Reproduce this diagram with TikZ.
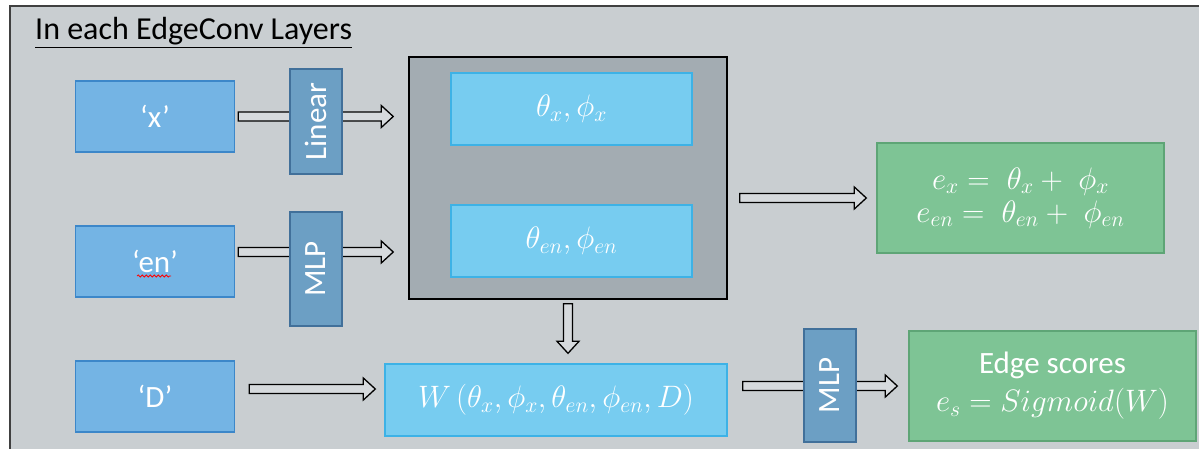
\documentclass[tikz,border=0pt]{standalone}
\usepackage{fix-cm}
\usepackage{amsmath}
\usepackage{fontspec}
\setmainfont{Carlito}
\usetikzlibrary{calc,decorations.pathmorphing}
\definecolor{framebg}{HTML}{C9CED1}
\definecolor{inblue}{HTML}{74B4E4}
\definecolor{inedge}{HTML}{3C87C9}
\definecolor{layblue}{HTML}{6C9FC4}
\definecolor{layedge}{HTML}{41709A}
\definecolor{embgray}{HTML}{A3ACB2}
\definecolor{embblue}{HTML}{77CCF0}
\definecolor{embedge}{HTML}{3DB2E6}
\definecolor{outgreen}{HTML}{7EC495}
\definecolor{outedge}{HTML}{5EA576}
\definecolor{arrfill}{HTML}{D6DADD}
\newcommand{\boxfont}{\fontsize{31}{33}\selectfont}
\newcommand{\titlefont}{\fontsize{32}{36}\selectfont}
\tikzset{
  inbox/.style={rectangle, draw=inedge, line width=1.4pt, fill=inblue, text=white,
                font=\boxfont, inner sep=0pt, minimum width=159pt, minimum height=71pt},
  layer/.style={rectangle, draw=layedge, line width=1.4pt, fill=layblue, text=white,
                font=\boxfont, inner sep=0pt, rotate=90, minimum width=#1, minimum height=52pt},
  embbox/.style={rectangle, draw=embedge, line width=1.4pt, fill=embblue, text=white,
                 font=\boxfont, inner sep=0pt, minimum width=#1, minimum height=72pt},
  outbox/.style={rectangle, draw=outedge, line width=1.4pt, fill=outgreen, text=white,
                 font=\boxfont, align=center, inner sep=0pt, minimum width=287pt, minimum height=110pt},
  % hollow block arrow, #1/#2 = gap left at the start/end
  blockarrow/.style 2 args={draw=black, fill=arrfill, line width=1.3pt, line join=miter,
    to path={let \p1=($(\tikztostart)!#1!(\tikztotarget)$),
                 \p2=($(\tikztotarget)!#2!(\tikztostart)$),
                 \n1={atan2(\y2-\y1,\x2-\x1)} in
      ($(\p1)+({\n1+90}:4.5pt)$) -- ($(\p2)+({\n1+180}:12pt)+({\n1+90}:4.5pt)$)
      -- ($(\p2)+({\n1+180}:12pt)+({\n1+90}:11pt)$) -- (\p2)
      -- ($(\p2)+({\n1+180}:12pt)+({\n1-90}:11pt)$) -- ($(\p2)+({\n1+180}:12pt)+({\n1-90}:4.5pt)$)
      -- ($(\p1)+({\n1-90}:4.5pt)$) -- cycle}},
}

\begin{document}
\begin{tikzpicture}[x=1pt, y=-1pt]
  \useasboundingbox (0,0) rectangle (1199,448);
  \clip (0,0) rectangle (1199,448);
  % grey panel, runs off the right and bottom edges
  \draw[line width=1.5pt, draw=black!75, fill=framebg] (10,6) rectangle (1230,480);
  \node[anchor=base west, font=\titlefont, inner sep=0pt] (title) at (35,39) {\underline{In each EdgeConv Layers}};

  % inputs
  \node[inbox] (inx)  at (155,116.5) {`x'};
  \node[inbox] (inen) at (155,261.5) {`en'};
  \node[inbox] (inD)  at (155,396.5) {`D'};
  \draw[red, line width=0.8pt, decorate, decoration={snake, amplitude=1pt, segment length=4pt}]
    ([xshift=-18pt,yshift=-14.5pt]inen.center) -- ++(34,0);

  % embeddings
  \node[rectangle, draw=black, line width=1.5pt, fill=embgray, minimum width=318pt,
        minimum height=242pt] (big) at (568,178) {};
  \node[embbox=241pt] (thx) at (571.5,109) {$\theta_x{,}\,\phi_x$};
  \node[embbox=241pt] (then) at (571.5,241) {$\theta_{en}{,}\,\phi_{en}$};
  \node[embbox=342pt] (wfun) at (556,400) {$W\,(\theta_x{,}\,\phi_x{,}\,\theta_{en}{,}\,\phi_{en}{,}\,D)$};

  % outputs
  \node[outbox] (sum) at (1020.5,198) {$e_x = \;\theta_x + \;\phi_x$\\ $e_{en} = \;\theta_{en} + \;\phi_{en}$};
  \node[outbox] (score) at (1052.5,386) {Edge scores\\[5pt] $e_s = Sigmoid(W)$};

  \coordinate (xout) at (inx.east);
  \coordinate (enout) at ([yshift=9.5pt]inen.east);
  \coordinate (Dout) at ([yshift=7.5pt]inD.east);
  \draw[blockarrow={3pt}{15pt}] (xout) to (xout -| big.west);
  \draw[blockarrow={3pt}{15pt}] (enout) to (enout -| big.west);
  \draw[blockarrow={14pt}{9pt}] (Dout) to (Dout -| wfun.west);
  \draw[blockarrow={4pt}{10pt}] (big.south) to (big.south |- wfun.north);
  \draw[blockarrow={12pt}{10pt}] (sum.west -| big.east) to (sum.west);
  \draw[blockarrow={15pt}{11pt}] (score.west -| wfun.east) to (score.west);

  % layers sit on top of the arrows
  \node[layer=105pt] (lin)  at (316,121.5) {Linear};
  \node[layer=114pt] (mlpa) at (316,269) {MLP};
  \node[layer=113pt] (mlpb) at (830,385.5) {MLP};
\end{tikzpicture}
\end{document}
